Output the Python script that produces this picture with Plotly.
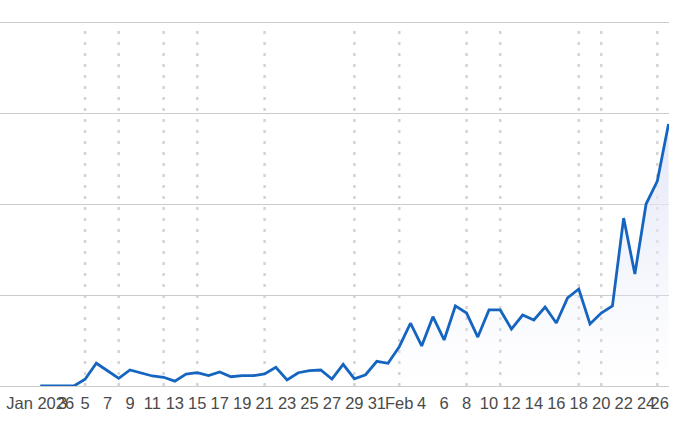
import plotly.graph_objects as go
import pandas as pd

# daily values, Jan 1 - Feb 26 2026
dates = pd.date_range("2026-01-01", "2026-02-26", freq="D")
values = [
    0, 0, 0, 0, 3.7, 12.5, 8.4, 4.2, 8.8, 7.1,
    5.5, 4.8, 2.7, 6.6, 7.3, 5.7, 7.7, 5.1, 5.7, 5.7,
    6.6, 10.3, 3.3, 7.3, 8.4, 8.8, 3.8, 11.9, 4.0, 6.2,
    13.6, 12.5, 21.6, 34.5, 22.0, 38.1, 25.3, 44.0, 40.1, 26.9,
    41.8, 41.8, 31.3, 39.0, 36.3, 43.4, 34.6, 48.4, 53.3, 34.1,
    40.1, 44.0, 92.3, 61.5, 100.0, 112.6, 144.0,
]

# dates marked with dotted vertical lines
event_dates = [
    "2026-01-05", "2026-01-08", "2026-01-12", "2026-01-15", "2026-01-21",
    "2026-01-29", "2026-02-02", "2026-02-08", "2026-02-11", "2026-02-18",
    "2026-02-20", "2026-02-25",
]

tick_dates = list(pd.date_range("2026-01-01", "2026-02-24", freq="2D"))
tick_labels = []
for d in tick_dates:
    if d.month == 1 and d.day == 1:
        tick_labels.append("Jan 2026")
    elif d.month == 2 and d.day == 2:
        tick_labels.append("Feb")
    else:
        tick_labels.append(str(d.day))
# last label (26) is pulled inside the plot edge, like the original
tick_dates.append(pd.Timestamp("2026-02-25 05:00"))
tick_labels.append("26")

y_ticks = [0, 50, 100, 150, 200]

fig = go.Figure()

fig.add_trace(go.Scatter(
    x=dates, y=values, mode="lines",
    line=dict(color="#1565C0", width=2.8),
    fill="tozeroy",
    fillgradient=dict(
        type="vertical",
        colorscale=[[0, "rgba(236,239,250,0)"], [1, "rgba(224,228,247,0.95)"]],
    ),
    showlegend=False,
    hoverinfo="x+y",
))

for d in event_dates:
    fig.add_shape(type="line", xref="x", yref="y",
                  x0=d, x1=d, y0=0, y1=200, layer="below",
                  line=dict(color="#d4d4d4", width=2.5, dash="3px,8px"))

fig.update_layout(
    width=680, height=427,
    margin=dict(l=0, r=11, t=13, b=41),
    paper_bgcolor="white",
    plot_bgcolor="white",
    font=dict(family="Liberation Sans, Arial, sans-serif", size=16.5, color="#4a4a4a"),
)
fig.update_xaxes(
    range=["2025-12-28 10:00", "2026-02-26 01:00"],
    tickvals=tick_dates, ticktext=tick_labels,
    tickangle=0, automargin=False, ticklabelstandoff=5,
    showgrid=False, zeroline=False, showline=False,
    ticks="", ticklen=0,
)
fig.update_yaxes(
    range=[0, 205], tickvals=y_ticks,
    showticklabels=False, automargin=False,
    showgrid=True, gridcolor="#cccccc", gridwidth=1,
    zeroline=True, zerolinecolor="#cccccc", zerolinewidth=1,
    showline=False,
)

fig.write_html("out.html", config={"displayModeBar": False},
               post_script="document.body.style.margin='0';")
